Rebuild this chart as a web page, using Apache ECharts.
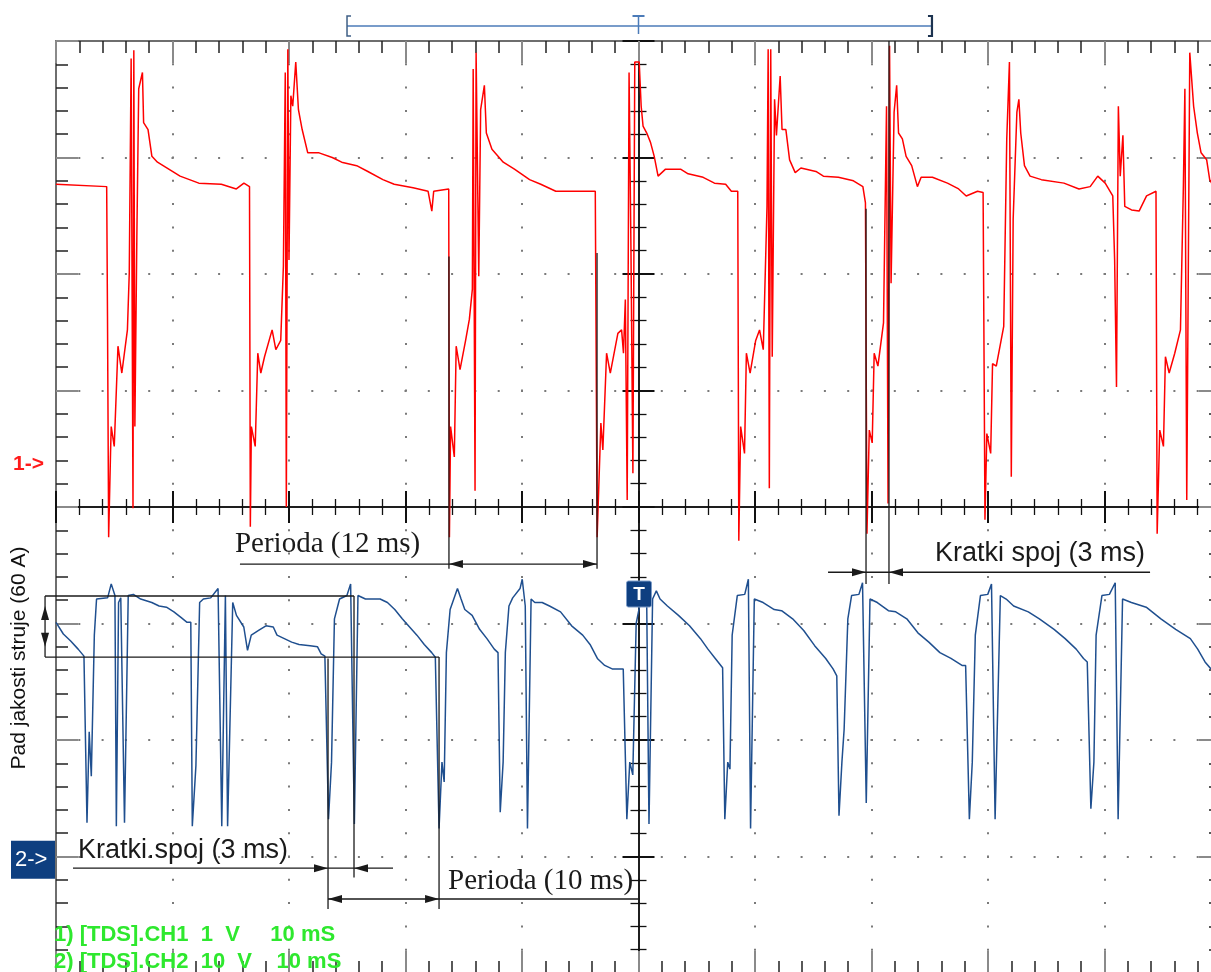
<!DOCTYPE html>
<html>
<head>
<meta charset="utf-8">
<script src="https://cdn.jsdelivr.net/npm/echarts@6/dist/echarts.min.js"></script>
<style>
  html, body { margin: 0; padding: 0; background: #fff; }
  #chart { width: 1211px; height: 972px; }
</style>
</head>
<body>
<div id="chart"></div>
<script>
// time in ms relative to the trigger (T), level in screen divisions (0 = centre line)
const ch1 = [
  [-50, 2.77], [-45.65, 2.75], [-45.58, 1.64], [-45.48, -0.26], [-45.32, 0.46], [-45.26, 0.69], [-45.0, 0.52],
  [-44.68, 1.38], [-44.35, 1.15], [-43.87, 1.52], [-43.71, 2.01], [-43.55, 3.85], [-43.39, -0.01], [-43.32, 3.92],
  [-43.23, 0.69], [-43.06, 2.32], [-42.9, 3.59], [-42.58, 3.73], [-42.48, 3.3], [-42.1, 3.24], [-41.77, 3.01],
  [-41.29, 2.96], [-40.32, 2.9], [-39.35, 2.84], [-37.74, 2.78], [-35.81, 2.77], [-34.52, 2.73], [-33.87, 2.78],
  [-33.39, 2.75], [-33.32, -0.17], [-33.23, 0.69], [-32.9, 0.52], [-32.68, 1.32], [-32.42, 1.15], [-32.1, 1.29],
  [-31.45, 1.52], [-31.13, 1.35], [-30.71, 1.43], [-30.48, 2.07], [-30.32, 3.73], [-30.23, 0.0], [-30.1, 3.93],
  [-30.0, 2.12], [-29.84, 3.53], [-29.68, 3.44], [-29.42, 3.82], [-29.19, 3.41], [-28.87, 3.24], [-28.39, 3.04],
  [-27.42, 3.04], [-26.29, 3.0], [-25.48, 2.96], [-24.19, 2.93], [-23.23, 2.88], [-21.94, 2.81], [-20.97, 2.77],
  [-19.35, 2.74], [-18.06, 2.71], [-17.74, 2.54], [-17.58, 2.71], [-16.29, 2.73], [-16.23, -0.26], [-16.13, 0.69],
  [-15.81, 0.43], [-15.65, 1.38], [-15.32, 1.18], [-14.84, 1.43], [-14.52, 1.61], [-14.26, 1.87], [-14.19, 3.76],
  [-14.03, 0.14], [-13.94, 3.9], [-13.71, 1.98], [-13.55, 3.41], [-13.23, 3.62], [-13.06, 3.21], [-12.58, 3.07],
  [-11.61, 2.96], [-10.65, 2.9], [-9.35, 2.81], [-8.39, 2.77], [-7.1, 2.71], [-3.71, 2.71], [-3.55, -0.26],
  [-3.23, 0.72], [-3.06, 0.49], [-2.74, 1.32], [-2.42, 1.15], [-1.77, 1.49], [-1.45, 1.52], [-1.29, 1.32],
  [-1.13, 1.78], [-0.97, 0.06], [-0.81, 3.73], [-0.65, 2.24], [-0.48, 0.29], [-0.32, 3.82], [0.06, 3.82],
  [0.23, 3.44], [0.39, 3.27], [0.71, 3.21], [1.03, 3.13], [1.35, 3.01], [1.68, 2.84], [2.32, 2.9], [3.61, 2.9],
  [4.26, 2.86], [5.55, 2.83], [6.52, 2.78], [7.48, 2.77], [7.97, 2.71], [8.52, 2.71], [8.61, -0.29], [8.77, 0.69],
  [9.1, 0.46], [9.26, 1.32], [9.58, 1.15], [10.06, 1.43], [10.39, 1.52], [10.71, 1.35], [11.03, 2.58], [11.13, 3.93],
  [11.23, 0.16], [11.35, 3.93], [11.48, 1.29], [11.68, 3.5], [11.84, 3.19], [12.16, 3.7], [12.32, 3.24], [12.65, 3.24],
  [12.97, 2.98], [13.45, 2.87], [13.94, 2.91], [15.23, 2.88], [15.87, 2.84], [17.16, 2.83], [18.45, 2.8], [19.26, 2.75],
  [19.48, 2.61], [19.61, -0.23], [19.81, 0.66], [20.06, 0.55], [20.23, 1.32], [20.55, 1.21], [21.03, 1.58],
  [21.29, 3.44], [21.42, 0.03], [21.55, 3.96], [21.68, 1.92], [21.94, 3.39], [22.16, 3.62], [22.32, 3.21],
  [22.65, 3.16], [22.97, 3.01], [23.45, 2.93], [23.94, 2.75], [24.26, 2.83], [25.23, 2.83], [26.52, 2.78],
  [27.48, 2.73], [28.13, 2.67], [29.1, 2.71], [29.58, 2.7], [29.74, -0.11], [29.9, 0.63], [30.23, 0.46],
  [30.39, 1.23], [30.71, 1.21], [31.35, 1.55], [31.61, 3.16], [31.84, 3.82], [32.0, 0.26], [32.16, 2.47],
  [32.48, 3.39], [32.65, 3.5], [32.81, 3.21], [33.13, 2.93], [33.61, 2.84], [34.58, 2.81], [36.52, 2.78],
  [37.81, 2.73], [38.77, 2.75], [39.42, 2.84], [40.06, 2.78], [40.71, 2.67], [40.87, 2.12], [41.03, 1.03],
  [41.19, 3.44], [41.35, 2.84], [41.58, 3.19], [41.74, 2.58], [42.32, 2.55], [42.97, 2.54], [43.61, 2.67],
  [44.42, 2.71], [44.52, -0.23], [44.74, 0.66], [45.06, 0.52], [45.23, 1.29], [45.55, 1.15], [46.03, 1.32],
  [46.52, 1.52], [46.77, 2.75], [46.9, 3.59], [47.06, 0.06], [47.32, 3.9], [47.65, 3.44], [47.97, 3.21],
  [48.29, 3.04], [48.77, 2.98], [49.03, 2.81], [49.2, 2.78]
];

const ch2 = [
  [-50.0, -0.99], [-49.37, -1.09], [-48.74, -1.15], [-48.1, -1.22], [-47.6, -1.28],
  [-47.34, -2.71], [-47.15, -1.93], [-46.97, -2.31], [-46.71, -1.1], [-46.52, -0.79], [-45.57, -0.78],
  [-45.26, -0.66], [-44.94, -0.76], [-44.82, -2.74], [-44.63, -0.82], [-44.44, -0.78], [-44.12, -2.71],
  [-43.8, -0.76], [-43.36, -0.75], [-42.73, -0.79], [-41.78, -0.82], [-41.15, -0.85], [-40.52, -0.86],
  [-39.88, -0.9], [-39.25, -0.95], [-38.75, -0.99], [-38.43, -0.99],
  [-38.3, -2.74], [-37.99, -2.22], [-37.67, -0.82], [-37.35, -0.79], [-36.72, -0.78], [-36.09, -0.7],
  [-35.77, -2.74], [-35.46, -0.76], [-35.27, -2.74], [-34.83, -0.82], [-34.51, -0.93], [-33.88, -1.03],
  [-33.56, -1.23], [-33.24, -1.1], [-32.61, -1.06], [-31.98, -1.02], [-31.35, -1.03], [-31.03, -1.1],
  [-30.4, -1.13], [-29.77, -1.16], [-29.14, -1.18], [-28.19, -1.19], [-27.55, -1.2], [-27.24, -1.26], [-26.92, -1.28],
  [-26.61, -2.68], [-26.35, -2.19], [-26.1, -0.96], [-25.66, -0.79], [-25.03, -0.76], [-24.71, -0.66],
  [-24.39, -2.72], [-24.08, -0.76], [-23.44, -0.79], [-22.18, -0.79], [-21.55, -0.82], [-20.92, -0.88],
  [-20.28, -0.96], [-19.65, -1.03], [-19.02, -1.1], [-18.39, -1.18], [-17.75, -1.25], [-17.44, -1.29],
  [-17.12, -2.76], [-16.87, -2.19], [-16.68, -2.36], [-16.49, -1.25], [-16.17, -0.88], [-15.54, -0.7],
  [-15.23, -0.79], [-14.91, -0.88], [-14.28, -0.93], [-13.64, -1.05], [-13.01, -1.13], [-12.38, -1.22], [-12.06, -1.25],
  [-11.87, -2.62], [-11.62, -2.19], [-11.43, -1.25], [-11.12, -0.85], [-10.8, -0.78], [-10.17, -0.7],
  [-9.98, -0.62], [-9.72, -0.85], [-9.53, -2.76], [-9.22, -0.79], [-8.9, -0.82], [-8.27, -0.82], [-7.64, -0.85],
  [-6.69, -0.9], [-5.74, -1.02], [-4.79, -1.1], [-4.16, -1.18], [-3.53, -1.3], [-2.9, -1.36], [-2.26, -1.39], [-1.31, -1.39],
  [-1.0, -2.68], [-0.75, -2.19], [-0.49, -2.3], [-0.2, -1.0], [0.2, -0.8], [0.7, -0.78], [0.9, -2.72],
  [1.21, -0.79], [1.53, -0.72], [1.85, -0.79], [2.48, -0.85], [3.43, -0.93], [4.38, -1.02], [5.32, -1.13],
  [5.96, -1.22], [6.59, -1.3], [7.22, -1.38],
  [7.41, -2.68], [7.66, -2.19], [7.85, -2.25], [8.04, -1.1], [8.48, -0.76], [9.12, -0.75], [9.43, -0.62],
  [9.62, -2.76], [9.94, -0.79], [10.7, -0.82], [11.65, -0.88], [12.28, -0.89], [13.23, -0.96], [14.18, -1.06],
  [15.12, -1.19], [16.07, -1.3], [16.7, -1.39], [17.02, -1.45],
  [17.21, -2.65], [17.46, -2.19], [17.65, -1.91], [17.97, -0.96], [18.29, -0.76], [18.92, -0.75], [19.23, -0.65],
  [19.55, -2.54], [19.87, -0.79], [20.5, -0.82], [21.45, -0.89], [22.08, -0.9], [23.03, -0.96], [23.98, -1.08],
  [24.92, -1.16], [25.87, -1.25], [26.82, -1.3], [27.77, -1.36], [28.08, -1.36],
  [28.4, -2.68], [28.65, -2.19], [28.91, -1.1], [29.35, -0.76], [29.98, -0.75], [30.3, -0.66], [30.61, -2.68],
  [31.06, -0.76], [31.56, -0.79], [32.2, -0.85], [33.46, -0.9], [34.41, -0.96], [35.67, -1.05], [36.62, -1.13],
  [37.57, -1.22], [38.2, -1.3], [38.52, -1.33],
  [38.83, -2.59], [39.09, -2.19], [39.28, -1.1], [39.78, -0.76], [40.42, -0.75], [40.92, -0.65], [41.17, -2.68],
  [41.55, -0.79], [42.31, -0.82], [43.58, -0.86], [44.84, -0.96], [46.11, -1.05], [47.37, -1.13], [48.0, -1.22],
  [48.63, -1.33], [49.14, -1.39]
];

// cursor times (ms) and levels (div) of the measurement annotations
const periodA = [-16.27, -3.56];   // Perioda (12 ms)
const shortA = [19.53, 21.5];      // Kratki spoj (3 ms)
const shortB = [-26.65, -24.42];   // Kratki.spoj (3 ms)
const periodB = [-26.65, -17.12];  // Perioda (10 ms)
const dropLevels = [-0.764, -1.288]; // Pad jakosti struje (60 A)
const ch1Ground = 0.37;
const ch2Ground = -3.02;

const dotted = { show: true, lineStyle: { color: '#7a7a7a', width: 2, type: [2, 21.3], dashOffset: 1 } };

function edgeAxis(position, split, isY) {
  return {
    type: 'value', position,
    min: isY ? -4 : -50, max: isY ? 4 : 50, interval: isY ? 1 : 10,
    axisLine: { onZero: false, lineStyle: { color: '#6e6e6e', width: 2 } },
    axisTick: { inside: true, length: 22, lineStyle: { color: '#8a8a8a', width: 2 } },
    minorTick: { show: true, splitNumber: 5, length: 12, lineStyle: { color: '#222', width: 1.5 } },
    axisLabel: { show: false },
    splitLine: split ? dotted : { show: false }
  };
}

function centreAxis(position, inside, isY) {
  return {
    type: 'value', position,
    min: isY ? -4 : -50, max: isY ? 4 : 50, interval: isY ? 1 : 10,
    axisLine: { onZero: true, lineStyle: { color: '#111', width: 1.5 } },
    axisTick: { inside, length: 16, lineStyle: { color: '#111', width: 2 } },
    minorTick: { show: true, splitNumber: 5, length: 8, lineStyle: { color: '#111', width: 1.3 } },
    axisLabel: { show: false },
    splitLine: { show: false }
  };
}

const chart = echarts.init(document.getElementById('chart'));
chart.setOption({
  animation: false,
  grid: { left: 56, top: 41, width: 1165, height: 932, outerBoundsMode: 'none', containLabel: false },
  xAxis: [
    edgeAxis('bottom', true, false),
    edgeAxis('top', false, false),
    centreAxis('bottom', true, false),
    centreAxis('bottom', false, false)
  ],
  yAxis: [
    edgeAxis('left', true, true),
    edgeAxis('right', false, true),
    centreAxis('left', true, true),
    centreAxis('left', false, true)
  ],
  series: [
    {
      name: 'CH2', type: 'line', data: ch2, showSymbol: false, z: 3,
      lineStyle: { color: '#1f4f8f', width: 1.5 }
    },
    {
      name: 'CH1', type: 'line', data: ch1, showSymbol: false, z: 4,
      lineStyle: { color: '#ff0000', width: 1.5 }
    }
  ]
});

// annotations, placed from data units
const P = (t, v) => chart.convertToPixel({ xAxisIndex: 0, yAxisIndex: 0 }, [t, v]);
const ink = '#1a1a1a';
const g = [];
function seg(a, b, w) {
  g.push({ type: 'line', z: 20, shape: { x1: a[0], y1: a[1], x2: b[0], y2: b[1] },
    style: { stroke: ink, lineWidth: w || 1.3 } });
}
function tip(p, dx, dy) {
  const L = 14, W = 4;
  const bx = p[0] - dx * L, by = p[1] - dy * L;
  g.push({ type: 'polygon', z: 21, shape: { points: [p, [bx - dy * W, by + dx * W], [bx + dy * W, by - dx * W]] },
    style: { fill: ink } });
}
function label(p, text, font) {
  g.push({ type: 'text', z: 22, x: p[0], y: p[1],
    style: { text, font, fill: ink, verticalAlign: 'middle' } });
}
const serif = '29px "Liberation Serif"';
const sans = '27px "Liberation Sans"';

// Perioda (12 ms)
seg(P(periodA[0], 2.15), P(periodA[0], -0.53));
seg(P(periodA[1], 2.18), P(periodA[1], -0.53));
seg(P(-34.21, -0.49), P(periodA[1], -0.49));
tip(P(periodA[0], -0.49), -1, 0);
tip(P(periodA[1], -0.49), 1, 0);
label(P(-34.64, -0.32), 'Perioda (12 ms)', serif);

// Kratki spoj (3 ms), upper right
seg(P(shortA[0], 2.56), P(shortA[0], -0.66));
seg(P(shortA[1], 4), P(shortA[1], -0.66));
seg(P(16.27, -0.56), P(43.91, -0.56));
tip(P(shortA[0], -0.56), 1, 0);
tip(P(shortA[1], -0.56), -1, 0);
label(P(25.45, -0.40), 'Kratki spoj (3 ms)', sans);

// current drop bracket
seg(P(-50.94, dropLevels[0]), P(shortB[1], dropLevels[0]));
seg(P(-50.94, dropLevels[1]), P(periodB[1], dropLevels[1]));
seg(P(-50.94, dropLevels[0]), P(-50.94, dropLevels[1]));
tip(P(-50.94, -0.85), 0, -1);
tip(P(-50.94, -1.2), 0, 1);

// Kratki.spoj (3 ms), lower left
seg(P(shortB[0], -1.30), P(shortB[0], -3.45));
seg(P(shortB[1], dropLevels[0]), P(shortB[1], -3.18));
seg(P(-48.54, -3.10), P(-21.07, -3.10));
tip(P(shortB[0], -3.10), 1, 0);
tip(P(shortB[1], -3.10), -1, 0);
label(P(-48.11, -2.95), 'Kratki.spoj (3 ms)', sans);

// Perioda (10 ms)
seg(P(periodB[1], dropLevels[1]), P(periodB[1], -3.45));
seg(P(periodB[0], -3.365), P(0.13, -3.365));
tip(P(periodB[0], -3.365), -1, 0);
tip(P(periodB[1], -3.365), 1, 0);
label(P(-16.35, -3.21), 'Perioda (10 ms)', serif);

// trigger marker on CH2
const tp = P(0, -0.747);
g.push({ type: 'rect', z: 30, shape: { x: tp[0] - 12, y: tp[1] - 13, width: 25, height: 26, r: 2 },
  style: { fill: '#0e3f80', stroke: '#7c9cc8', lineWidth: 1 } });
g.push({ type: 'text', z: 31, x: tp[0] + 0.5, y: tp[1] + 1,
  style: { text: 'T', font: 'bold 19px "Liberation Sans"', fill: '#fff', align: 'center', verticalAlign: 'middle' } });

// trigger window on top
const wl = P(-25.02, 0)[0], wr = P(25.19, 0)[0], wc = P(0, 0)[0];
g.push({ type: 'line', shape: { x1: wl, y1: 26, x2: wr, y2: 26 }, style: { stroke: '#4b7bb8', lineWidth: 1.5 } });
g.push({ type: 'polyline', shape: { points: [[wl + 4, 16], [wl, 16], [wl, 36], [wl + 4, 36]] }, style: { stroke: '#3f5f86', lineWidth: 1.5, fill: null } });
g.push({ type: 'polyline', shape: { points: [[wr - 4, 16], [wr, 16], [wr, 36], [wr - 4, 36]] }, style: { stroke: '#1d3350', lineWidth: 2.2, fill: null } });
g.push({ type: 'line', shape: { x1: wc - 6, y1: 16, x2: wc + 6, y2: 16 }, style: { stroke: '#4b7bb8', lineWidth: 2 } });
g.push({ type: 'line', shape: { x1: wc, y1: 16, x2: wc, y2: 34 }, style: { stroke: '#4b7bb8', lineWidth: 1.5 } });

// channel reference markers
g.push({ type: 'text', x: 13, y: P(0, ch1Ground)[1],
  style: { text: '1->', font: 'bold 21px "Liberation Sans"', fill: '#ff1a1a', verticalAlign: 'middle' } });
const m2 = P(0, ch2Ground)[1];
g.push({ type: 'rect', shape: { x: 11, y: m2 - 18, width: 44, height: 38 }, style: { fill: '#0e3f80' } });
g.push({ type: 'text', x: 15, y: m2 + 1,
  style: { text: '2->', font: '22px "Liberation Sans"', fill: '#fff', verticalAlign: 'middle' } });

// axis title
g.push({ type: 'text', x: 19, y: 658, rotation: Math.PI / 2,
  style: { text: 'Pad jakosti struje (60 A)', font: '21px "Liberation Sans"', fill: '#111', align: 'center', verticalAlign: 'middle' } });

// instrument settings
g.push({ type: 'text', z: 25, x: 54, y: 935,
  style: { text: '1) [TDS].CH1  1  V     10 mS', font: 'bold 22px "Liberation Sans"', fill: '#2ee82e', verticalAlign: 'middle' } });
g.push({ type: 'text', z: 25, x: 54, y: 962,
  style: { text: '2) [TDS].CH2  10  V    10 mS', font: 'bold 22px "Liberation Sans"', fill: '#2ee82e', verticalAlign: 'middle' } });

chart.setOption({ graphic: g });
</script>
</body>
</html>
